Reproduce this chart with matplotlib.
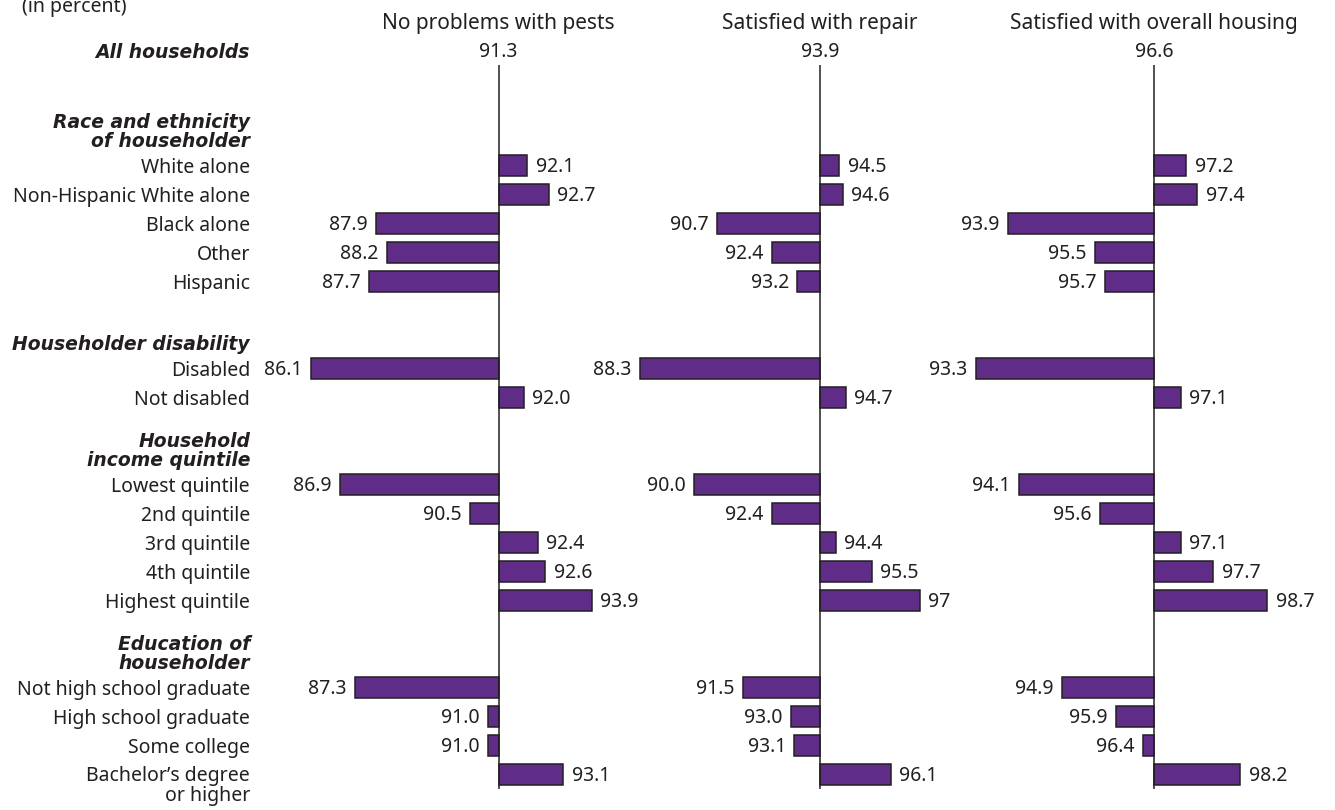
import matplotlib.pyplot as plt
import matplotlib.transforms as mtransforms

plt.rcParams['font.family'] = ['Noto Sans', 'DejaVu Sans']

# ---- data ----
panel_titles = ["No problems with pests", "Satisfied with repair",
                "Satisfied with overall housing"]
all_households = [91.3, 93.9, 96.6]

group_titles = ["Race and ethnicity\nof householder", "Householder disability",
                "Household\nincome quintile", "Education of\nhouseholder"]
group_rows = [
    ["White alone", "Non-Hispanic White alone", "Black alone", "Other", "Hispanic"],
    ["Disabled", "Not disabled"],
    ["Lowest quintile", "2nd quintile", "3rd quintile", "4th quintile", "Highest quintile"],
    ["Not high school graduate", "High school graduate", "Some college",
     "Bachelor\u2019s degree\nor higher"],
]

pests = [92.1, 92.7, 87.9, 88.2, 87.7, 86.1, 92.0,
         86.9, 90.5, 92.4, 92.6, 93.9, 87.3, 91.0, 91.0, 93.1]
repair = [94.5, 94.6, 90.7, 92.4, 93.2, 88.3, 94.7,
          90.0, 92.4, 94.4, 95.5, 97.0, 91.5, 93.0, 93.1, 96.1]
housing = [97.2, 97.4, 93.9, 95.5, 95.7, 93.3, 97.1,
           94.1, 95.6, 97.1, 97.7, 98.7, 94.9, 95.9, 96.4, 98.2]
label_overrides = {(1, 11): "97"}

# ---- layout ----
W, H = 1335, 810
ROW0, ROW_H = 165.5, 29.0          # pixel y of first row, row spacing
panel_cx = [498.5, 820, 1154]      # pixel x of each panel's baseline
panel_scale = [36.0, 32.2, 54.0]   # pixels per percentage point
LABEL_X = 250 / W
BAR = '#5f2c87'
INK = '#231f20'
FS = 14
HEAD = dict(family=['DejaVu Sans'], fontweight='bold', fontstyle='italic',
            fontsize=13.5, color=INK)


def py(y):
    """pixel y -> row units"""
    return (y - ROW0) / ROW_H


# row positions: groups separated by two blank rows
positions, labels, headers = [], [], []
r = 0
for g, rows in enumerate(group_rows):
    headers.append(r)
    for lab in rows:
        positions.append(r)
        labels.append(lab)
        r += 1
    r += 2

fig = plt.figure(figsize=(W / 100, H / 100), dpi=100)
series = [pests, repair, housing]
axes = []
for i, vals in enumerate(series):
    ax = fig.add_axes([0, 0, 1, 1])
    ax.set_facecolor('none')
    ax.axis('off')
    base, cx, s = all_households[i], panel_cx[i], panel_scale[i]
    ax.set_xlim(base - cx / s, base + (W - cx) / s)
    ax.set_ylim(py(H), py(0))

    diffs = [v - base for v in vals]
    ax.barh(positions, diffs, left=base, height=0.72, color=BAR,
            edgecolor=INK, linewidth=1.1, zorder=2)
    ax.vlines(base, py(65), positions[-1] + 0.5, color=INK, linewidth=1.1, zorder=3)

    for j, (p, v, d) in enumerate(zip(positions, vals, diffs)):
        txt = label_overrides.get((i, j), f"{v:.1f}")
        if d >= 0:
            ax.annotate(txt, (v, p), xytext=(6, -1), textcoords='offset points',
                        ha='left', va='center', fontsize=FS, color=INK)
        else:
            ax.annotate(txt, (v, p), xytext=(-6, -1), textcoords='offset points',
                        ha='right', va='center', fontsize=FS, color=INK)

    ax.text(base, py(24), panel_titles[i], ha='center', va='center',
            fontsize=FS + 1, color=INK)
    ax.text(base, py(52), f"{base:.1f}", ha='center', va='center',
            fontsize=FS, color=INK)
    axes.append(ax)

# left-hand labels
ax = axes[0]
tr = mtransforms.blended_transform_factory(fig.transFigure, ax.transData)
for p, lab in zip(positions, labels):
    if "\n" in lab:
        ax.text(LABEL_X, p - 0.3, lab, transform=tr, ha='right', va='top',
                fontsize=FS, color=INK, linespacing=1.0)
    else:
        ax.text(LABEL_X, p + 0.07, lab, transform=tr, ha='right', va='center',
                fontsize=FS, color=INK)
for h, title in zip(headers, group_titles):
    ax.text(LABEL_X, h - 0.64, title, transform=tr, ha='right', va='baseline',
            linespacing=1.0, **HEAD)
ax.text(LABEL_X, py(52), "All households", transform=tr, ha='right', va='center',
        **HEAD)
ax.text(22 / W, py(7), "(in percent)", transform=tr, ha='left', va='center',
        fontsize=FS, color=INK)

fig.savefig('out.png', dpi=100)
